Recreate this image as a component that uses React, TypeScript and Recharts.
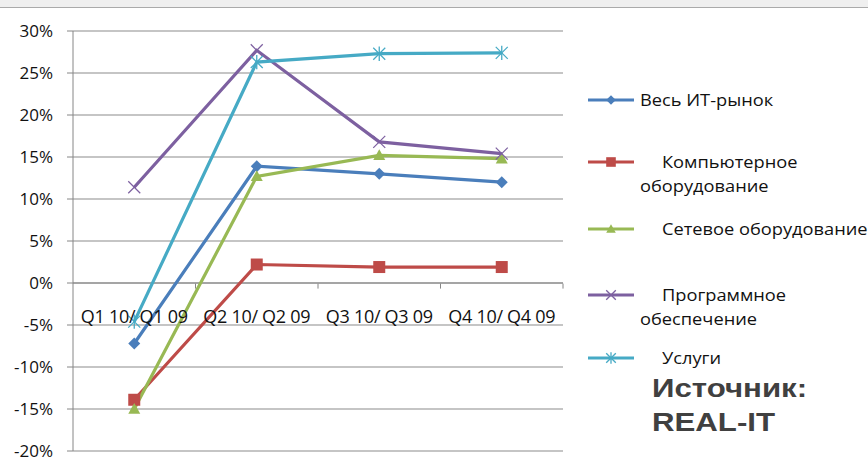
import { LineChart, Line, XAxis, YAxis, CartesianGrid, ReferenceLine } from "recharts";

const quarters = ["Q1 10/ Q1 09", "Q2 10/ Q2 09", "Q3 10/ Q3 09", "Q4 10/ Q4 09"];
const itMarket = [-7.2, 13.9, 13.0, 12.0];
const hardware = [-13.9, 2.2, 1.9, 1.9];
const network = [-15.0, 12.7, 15.2, 14.8];
const software = [11.4, 27.7, 16.8, 15.4];
const services = [-4.6, 26.3, 27.3, 27.4];
const yTicks = [-20, -15, -10, -5, 0, 5, 10, 15, 20, 25, 30];

const series = [
  { key: "it", name: "Весь ИТ-рынок", values: itMarket, color: "#4a7ebb", marker: "diamond" },
  { key: "hw", name: "Компьютерное\nоборудование", values: hardware, color: "#be4b48", marker: "square" },
  { key: "net", name: "Сетевое оборудование", values: network, color: "#98b954", marker: "triangle" },
  { key: "sw", name: "Программное\nобеспечение", values: software, color: "#7d60a0", marker: "x" },
  { key: "srv", name: "Услуги", values: services, color: "#46aac5", marker: "star" },
];

const data = quarters.map((q, i) => {
  const row: any = { q };
  series.forEach((s) => (row[s.key] = s.values[i]));
  return row;
});

const W = 868;
const H = 459;
const M = { top: 31, right: 305, bottom: 7, left: 0 };
const AXIS_W = 73;
const Y_MIN = -20;
const Y_MAX = 30;
const BAND = (W - M.right - AXIS_W) / quarters.length;

const Marker = ({ cx, cy, type, color, size = 1 }: any) => {
  if (cx == null || cy == null) return null;
  const r = 6 * size;
  if (type === "diamond")
    return <polygon points={`${cx},${cy - r} ${cx + r},${cy} ${cx},${cy + r} ${cx - r},${cy}`} fill={color} />;
  if (type === "square") return <rect x={cx - r} y={cy - r} width={r * 2} height={r * 2} fill={color} />;
  if (type === "triangle")
    return <polygon points={`${cx},${cy - r} ${cx + r},${cy + r * 0.8} ${cx - r},${cy + r * 0.8}`} fill={color} />;
  if (type === "x")
    return (
      <g stroke={color} strokeWidth={1.3}>
        <line x1={cx - r} y1={cy - r} x2={cx + r} y2={cy + r} />
        <line x1={cx - r} y1={cy + r} x2={cx + r} y2={cy - r} />
      </g>
    );
  return (
    <g stroke={color} strokeWidth={1.3}>
      <line x1={cx - r} y1={cy - r} x2={cx + r} y2={cy + r} />
      <line x1={cx - r} y1={cy + r} x2={cx + r} y2={cy - r} />
      <line x1={cx} y1={cy - r * 1.2} x2={cx} y2={cy + r * 1.2} />
    </g>
  );
};

const CatTick = ({ x, payload }: any) => {
  const plotH = H - M.top - M.bottom;
  const zeroY = M.top + (plotH * Y_MAX) / (Y_MAX - Y_MIN);
  return (
    <g>
      <line x1={x + BAND / 2} y1={zeroY} x2={x + BAND / 2} y2={zeroY + 5} stroke="#868686" />
      <text
        x={x}
        y={zeroY + 39}
        textAnchor="middle"
        fontSize={18}
        fill="#111"
        fontFamily="Open Sans"
        letterSpacing={-0.3}
      >
        {payload.value}
      </text>
    </g>
  );
};

const LegendBox = () => {
  const tops = [96, 158, 225, 291, 354];
  return (
    <div style={{ position: "absolute", left: 588, top: 0, width: 280, height: H, fontFamily: "Open Sans", fontSize: 16, color: "#111" }}>
      {series.map((s, i) => {
        const lines = s.name.split("\n");
        const txt: any = {
          position: "absolute",
          top: 0,
          whiteSpace: "nowrap",
          lineHeight: "24px",
          transform: "scaleX(1.14)",
          transformOrigin: "left",
        };
        return (
          <div key={s.key} style={{ position: "absolute", left: 0, top: tops[i] - 8, width: 290 }}>
            <svg width={50} height={22} style={{ position: "absolute", left: 0, top: 1 }}>
              <line x1={0} y1={11} x2={46} y2={11} stroke={s.color} strokeWidth={3} />
              <Marker cx={23} cy={11} type={s.marker} color={s.color} size={0.8} />
            </svg>
            <div style={{ ...txt, left: i === 0 ? 52 : 74 }}>{lines[0]}</div>
            {lines[1] && <div style={{ ...txt, left: 52, top: 24 }}>{lines[1]}</div>}
          </div>
        );
      })}
    </div>
  );
};

export default function App() {
  return (
    <div style={{ position: "relative", width: W, height: H, background: "#fff", overflow: "hidden" }}>
      <style>{"body{margin:0}"}</style>
      <div style={{ position: "absolute", left: 0, top: 0, width: W, height: 7, background: "#efefef", borderBottom: "1.5px solid #aaa" }} />
      <LineChart width={W} height={H} data={data} margin={M}>
        <CartesianGrid vertical={false} stroke="#8c8c8c" strokeWidth={1.2} />
        <XAxis
          dataKey="q"
          axisLine={false}
          tickLine={false}
          tick={<CatTick />}
          interval={0}
          height={1}
          padding={{ left: BAND / 2, right: BAND / 2 }}
        />
        <YAxis
          domain={[Y_MIN, Y_MAX]}
          ticks={yTicks}
          width={AXIS_W}
          tickFormatter={(v) => `${v}%`}
          stroke="#868686"
          tickSize={6}
          tickMargin={14}
          tick={{ fontSize: 17, fill: "#111", fontFamily: "Open Sans" }}
          interval={0}
        />
        <ReferenceLine y={0} stroke="#868686" strokeWidth={1.2} />
        {series.map((s) => (
          <Line
            key={s.key}
            dataKey={s.key}
            name={s.name}
            stroke={s.color}
            strokeWidth={3.2}
            isAnimationActive={false}
            dot={(p: any) => <Marker key={p.index} cx={p.cx} cy={p.cy} type={s.marker} color={s.color} />}
            activeDot={false}
          />
        ))}
      </LineChart>
      <LegendBox />
      <div
        style={{
          position: "absolute",
          left: 652,
          top: 371,
          fontFamily: "Liberation Sans",
          fontWeight: "bold",
          fontSize: 26,
          lineHeight: "34px",
          color: "#404040",
          transform: "scaleX(1.2)",
          transformOrigin: "left",
        }}
      >
        Источник:
        <br />
        REAL-IT
      </div>
    </div>
  );
}
